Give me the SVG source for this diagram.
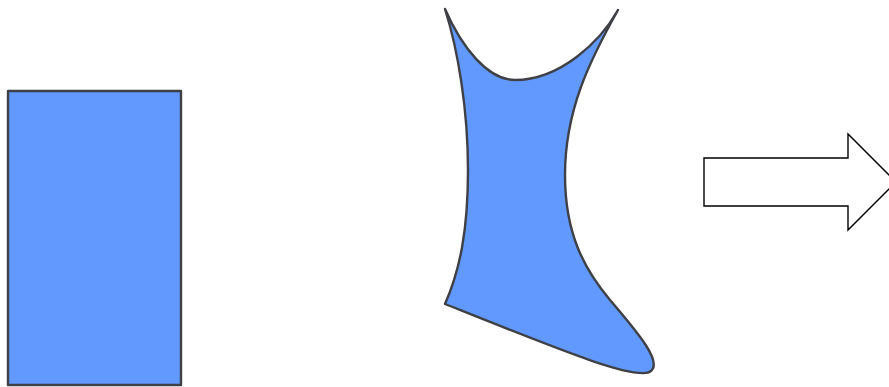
<svg xmlns="http://www.w3.org/2000/svg" width="889" height="387" viewBox="0 0 889 387">
<style>
.blue{fill:#6199FF;stroke:#3f4045;stroke-width:2.4;stroke-linejoin:round}
.arrow{fill:#fff;stroke:#000;stroke-width:1.4}
</style>
<rect width="889" height="387" fill="#fff"/>
<g id="rect-shape"><rect class="blue" x="8" y="91" width="173" height="294"/></g>
<g id="warped-shape"><path class="blue" d="M445,9 C462,48 488,80 515,80 C560,80 600,42 618,10 C590,60 565,110 565,175 C565,235 585,270 610,300 C640,335 662,362 651,371 C638,382 560,350 445,304 C460,270 468,230 468,170 C468,110 458,50 445,9 Z"/></g>
<g id="arrow-shape"><path class="arrow" d="M704,158 L848,158 L848,134 L896,182 L848,230 L848,206 L704,206 Z"/></g>
</svg>
